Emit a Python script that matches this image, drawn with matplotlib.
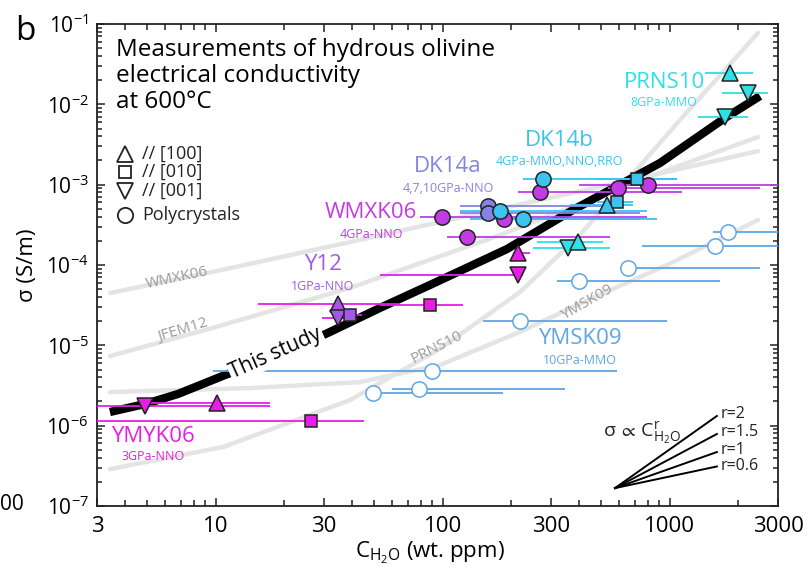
import numpy as np
import matplotlib
matplotlib.use('Agg')
import matplotlib.pyplot as plt
from matplotlib.lines import Line2D
from matplotlib.ticker import FixedLocator, FixedFormatter, NullFormatter

plt.rcParams['font.family'] = ['Open Sans', 'DejaVu Sans']
plt.rcParams['mathtext.fontset'] = 'custom'
plt.rcParams['mathtext.rm'] = 'Open Sans'
plt.rcParams['mathtext.it'] = 'Open Sans:italic'
plt.rcParams['mathtext.bf'] = 'Open Sans:bold'

# ---------------- data ----------------
# YMYK06 (3GPa-NNO)
ymyk06_C   = [4.9, 10.1, 26.3, 215, 215, 88]
ymyk06_sig = [1.78e-6, 1.91e-6, 1.14e-6, 1.41e-4, 7.5e-5, 3.18e-5]
ymyk06_lo  = [2.5, 5.0, 2.5, 204, 53, 53]
ymyk06_hi  = [17.3, 17.3, 45, 242, 226, 123]
ymyk06_mk  = ['v', '^', 's', '^', 'v', 's']

# Y12 (1GPa-NNO)
y12_C   = [34.6, 34.6, 39.1]
y12_sig = [3.27e-5, 2.19e-5, 2.39e-5]
y12_lo  = [15.4, 29.4, 35]
y12_hi  = [65, 40, 44]
y12_mk  = ['^', 'v', 's']

# WMXK06 (4GPa-NNO), polycrystals
wmxk06_C   = [99, 128, 186, 268, 592, 803]
wmxk06_sig = [3.95e-4, 2.23e-4, 3.74e-4, 8.1e-4, 9.08e-4, 9.9e-4]
wmxk06_lo  = [79.5, 104, 160, 215, 535, 400]
wmxk06_hi  = [795, 546, 740, 1133, 2500, 3500]

# DK14a (4,7,10GPa-NNO), polycrystals
dk14a_C   = [158.5, 158.5]
dk14a_sig = [5.42e-4, 4.44e-4]
dk14a_lo  = [119, 119]
dk14a_hi  = [620, 740]

# DK14b (4GPa-MMO,NNO,RRO)
dk14b_C   = [277, 179, 226, 718, 586, 530]
dk14b_sig = [1.17e-3, 4.7e-4, 3.74e-4, 1.17e-3, 6.08e-4, 5.58e-4]
dk14b_lo  = [226, 119, 132, 480, 479, 364]
dk14b_hi  = [1077, 795, 880, 1077, 689, 689]
dk14b_mk  = ['o', 'o', 'o', 's', 's', '^']

# PRNS10 (8GPa-MMO)
prns10_C   = [1845, 2213, 1754, 357, 395]
prns10_sig = [0.0245, 0.0138, 6.95e-3, 1.63e-4, 1.93e-4]
prns10_lo  = [1430, 1699, 1333, 250, 260]
prns10_hi  = [2328, 2710, 2214, 546, 508]
prns10_mk  = ['^', 'v', 'v', 'v', '^']

# YMSK09 (10GPa-MMO), polycrystals (open)
ymsk09_C   = [1807, 1585, 655, 398, 219, 89.8, 78.7, 49.3]
ymsk09_sig = [2.58e-4, 1.72e-4, 9.19e-5, 6.32e-5, 2.01e-5, 4.79e-6, 2.86e-6, 2.55e-6]
ymsk09_lo  = [1552, 756, 604, 319, 151, 9.73, 59.8, 49.3]
ymsk09_hi  = [3500, 3500, 2500, 1665, 973, 586, 346, 184]

# model curves (grey)
wmxk06_mod_C   = [3.42, 9.64, 41.1, 97.3, 740, 2448]
wmxk06_mod_sig = [4.48e-5, 8.18e-5, 1.99e-4, 3.43e-4, 1.21e-3, 2.62e-3]
jfem12_mod_C   = [3.42, 9.64, 39.0, 179, 740, 2448]
jfem12_mod_sig = [7.36e-6, 1.64e-5, 5.18e-5, 2.36e-4, 1.14e-3, 3.92e-3]
ymsk09_mod_C   = [3.42, 14.2, 43.2, 97.3, 219, 437, 973, 2448]
ymsk09_mod_sig = [2.62e-6, 2.94e-6, 3.49e-6, 5.69e-6, 1.47e-5, 3.67e-5, 1.0e-4, 3.63e-4]
prns10_mod_C   = [3.42, 10.77, 39.0, 95.4, 219, 402, 546, 1110, 2448]
prns10_mod_sig = [2.88e-7, 5.42e-7, 2.08e-6, 8.75e-6, 4.61e-5, 2.36e-4, 6.44e-4, 6.38e-3, 0.0773]

# "This study" model
study_C   = [3.42, 4.88, 6.82, 10.99, 19.2, 31.9, 52.9, 87.9, 192, 375, 906, 1752, 2500]
study_sig = [1.48e-6, 1.86e-6, 2.48e-6, 4.27e-6, 7.59e-6, 1.47e-5, 2.92e-5, 5.64e-5,
             1.58e-4, 4.84e-4, 1.86e-3, 6.76e-3, 0.0127]

# slope scale
scale_r = [2, 1.5, 1, 0.6]
scale_C0, scale_sig0, scale_C1 = 574, 1.67e-7, 1614

xticks_major = [3, 10, 30, 100, 300, 1000, 3000]
xtick_labels = ['3', '10', '30', '100', '300', '1000', '3000']
yticks_major = [1e-7, 1e-6, 1e-5, 1e-4, 1e-3, 1e-2, 1e-1]
ytick_labels = [r'$\mathregular{10^{-%d}}$' % k for k in [7, 6, 5, 4, 3, 2, 1]]

# colours
c_ymyk = '#e61ee6'
c_wmxk = '#c23ce6'
c_y12 = '#a25ae6'
c_dk14a = '#8484e6'
c_dk14b = '#3cc3f0'
c_prns = '#2ee1e6'
c_ymsk = '#5ea6e6'
c_grey = '#e4e4e4'
c_greytxt = '#9a9a9a'

W, H = 810, 580
fig = plt.figure(figsize=(W / 100, H / 100), dpi=100)
ax = fig.add_axes([97 / W, 1 - 506 / H, 681 / W, 482 / H])
ax.set_xscale('log')
ax.set_yscale('log')
ax.set_xlim(3, 3000)
ax.set_ylim(1e-7, 1e-1)


def fx(p):
    return p / W


def fy(p):
    return 1 - p / H


# grey model curves
for cc, ss in [(wmxk06_mod_C, wmxk06_mod_sig), (jfem12_mod_C, jfem12_mod_sig),
               (ymsk09_mod_C, ymsk09_mod_sig), (prns10_mod_C, prns10_mod_sig)]:
    ax.plot(cc, ss, color=c_grey, lw=3.2, solid_capstyle='round', zorder=1)

# this study
ax.plot(study_C, study_sig, color='black', lw=6, solid_capstyle='butt', zorder=2)
fig.text(fx(276), fy(353), 'This study', rotation=24, fontsize=15, ha='center', va='center',
         zorder=5, bbox=dict(facecolor='white', edgecolor='none', pad=1.0))


def draw(C, S, lo, hi, mk, col, face=None, edge='#222222', bcol=None, ms=11):
    ax.hlines(S, lo, hi, color=bcol or col, lw=1.3, zorder=6)
    for c, s, m in zip(C, S, mk):
        size = 8.5 if m == 's' else ms
        ax.plot([c], [s], marker=m, ms=size, mfc=face or col, mec=edge, mew=1.1,
                ls='none', zorder=7)


draw(ymyk06_C, ymyk06_sig, ymyk06_lo, ymyk06_hi, ymyk06_mk, c_ymyk)
draw(y12_C, y12_sig, y12_lo, y12_hi, y12_mk, c_y12, bcol=c_ymyk)
draw(wmxk06_C, wmxk06_sig, wmxk06_lo, wmxk06_hi, ['o'] * 6, c_wmxk)
draw(dk14a_C, dk14a_sig, dk14a_lo, dk14a_hi, ['o'] * 2, c_dk14a)
draw(dk14b_C, dk14b_sig, dk14b_lo, dk14b_hi, dk14b_mk, c_dk14b)
draw(prns10_C, prns10_sig, prns10_lo, prns10_hi, prns10_mk, c_prns)
draw(ymsk09_C, ymsk09_sig, ymsk09_lo, ymsk09_hi, ['o'] * 8, c_ymsk, face='white',
     edge=c_ymsk)

# slope scale
for r in scale_r:
    s1 = scale_sig0 * (scale_C1 / scale_C0) ** r
    ax.plot([scale_C0, scale_C1], [scale_sig0, s1], color='black', lw=1.4, zorder=3)
for r, yy in zip(['r=2', 'r=1.5', 'r=1', 'r=0.6'], [414, 432, 450, 466]):
    fig.text(fx(721), fy(yy), r, fontsize=11.5, ha='left', va='center', color='#222222')
fig.text(fx(642), fy(433), r'$\mathregular{\sigma\,\propto\,C^{r}_{H_2O}}$', fontsize=14,
         ha='center', va='center', color='#222222')

# ticks
ax.xaxis.set_major_locator(FixedLocator(xticks_major))
ax.xaxis.set_major_formatter(FixedFormatter(xtick_labels))
xminor = [m * 10 ** k for k in range(0, 4) for m in range(2, 10)]
xminor = [v for v in xminor if 3 <= v <= 3000 and v not in xticks_major]
ax.xaxis.set_minor_locator(FixedLocator(xminor))
ax.xaxis.set_minor_formatter(NullFormatter())
ax.yaxis.set_major_locator(FixedLocator(yticks_major))
ax.yaxis.set_major_formatter(FixedFormatter(ytick_labels))
yminor = [m * 10.0 ** k for k in range(-7, -1) for m in range(2, 10)]
ax.yaxis.set_minor_locator(FixedLocator(yminor))
ax.yaxis.set_minor_formatter(NullFormatter())
ax.tick_params(which='both', direction='in', top=True, right=True, width=1.1, color='#222222')
ax.tick_params(axis='x', which='major', length=5.5, labelsize=16, pad=7)
ax.tick_params(axis='x', which='minor', length=4.5)
ax.tick_params(axis='y', which='major', length=6, labelsize=15, pad=6)
ax.tick_params(axis='y', which='minor', length=3.5)
for sp in ax.spines.values():
    sp.set_linewidth(1.3)
    sp.set_color('#222222')

# axis labels
fig.text(fx(430), fy(553), r'$\mathregular{C_{H_2O}}$ (wt. ppm)', fontsize=16,
         ha='center', va='center')
fig.text(fx(28), fy(265), 'σ (S/m)', fontsize=16, rotation=90, ha='center', va='center')

# title / panel
fig.text(fx(25), fy(32), 'b', fontsize=24, ha='center', va='center')
fig.text(fx(0), fy(505), '00', fontsize=15, ha='left', va='center')
for line, base in zip(['Measurements of hydrous olivine', 'electrical conductivity',
                       'at 600°C'], [56, 82, 108]):
    fig.text(fx(116), fy(base), line, fontsize=17.5, ha='left', va='baseline')

# orientation legend
leg = [('^', 11.5, '// [100]', 154), ('s', 9, '// [010]', 172),
       ('v', 11.5, '// [001]', 191), ('o', 11, 'Polycrystals', 215)]
for m, s, t, yy in leg:
    fig.add_artist(Line2D([fx(125)], [fy(yy)], marker=m, ms=s, mfc='none', mec='#222222',
                          mew=1.3, ls='none', transform=fig.transFigure))
    fig.text(fx(142), fy(yy), t, fontsize=13, ha='left', va='center', color='#222222')

# dataset labels
labels = [('YMYK06', '3GPa-NNO', c_ymyk, 153, 436, 457),
          ('Y12', '1GPa-NNO', c_y12, 323, 265, 286),
          ('WMXK06', '4GPa-NNO', c_wmxk, 371, 213, 234),
          ('DK14a', '4,7,10GPa-NNO', c_dk14a, 448, 167, 188),
          ('DK14b', '4GPa-MMO,NNO,RRO', c_dk14b, 559, 140, 161),
          ('PRNS10', '8GPa-MMO', c_prns, 664, 83, 103),
          ('YMSK09', '10GPa-MMO', c_ymsk, 580, 339, 360)]
for big, small, col, xx, y1, y2 in labels:
    fig.text(fx(xx), fy(y1), big, fontsize=16, color=col, ha='center', va='center')
    fig.text(fx(xx), fy(y2), small, fontsize=9, color=col, ha='center', va='center')

# grey model labels
for t, xx, yy, rot in [('WMXK06', 177, 278, 12), ('JFEM12', 183, 330, 17),
                       ('PRNS10', 437, 347, 27), ('YMSK09', 587, 303, 30)]:
    fig.text(fx(xx), fy(yy), t, fontsize=11, color=c_greytxt, rotation=rot,
             ha='center', va='center')

fig.savefig('out.png', dpi=100)
